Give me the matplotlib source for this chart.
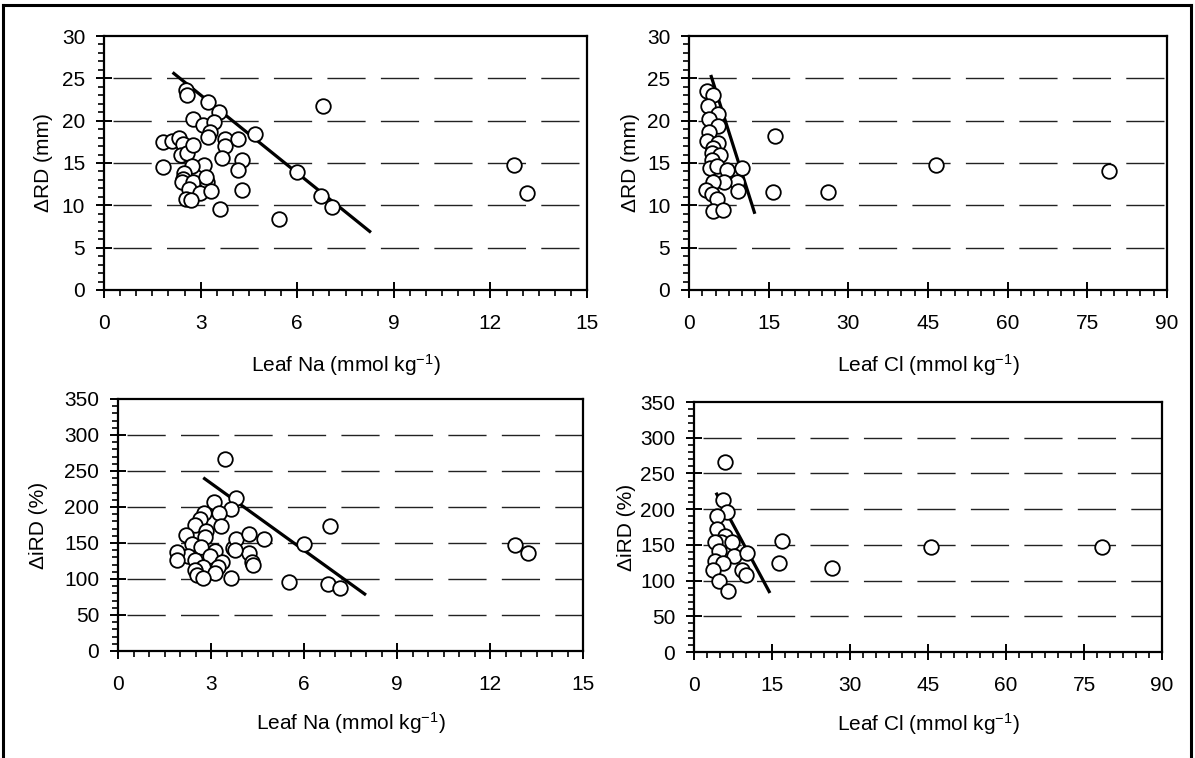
import matplotlib
matplotlib.use("Agg")
import matplotlib.pyplot as plt
from matplotlib.ticker import MultipleLocator
from matplotlib.lines import Line2D

plt.rcParams['font.family'] = ['Liberation Sans', 'DejaVu Sans']
plt.rcParams['mathtext.default'] = 'regular'
plt.rcParams['lines.scale_dashes'] = False

# ---- data: dRD (mm) vs leaf Na ----
na_rd_x = [1.82, 1.82, 2.10, 2.33, 2.44, 2.39, 2.59, 2.77, 2.55, 2.59, 2.75, 3.07, 3.22, 3.57,
           3.43, 3.29, 3.22, 3.76, 3.76, 4.17, 3.66, 4.30, 4.17, 4.69, 3.12, 2.72, 2.49, 2.46,
           2.41, 2.77, 3.19, 3.17, 2.65, 2.98, 3.31, 2.55, 2.69, 3.60, 4.28, 5.44, 5.98, 6.79,
           6.73, 7.09, 12.74, 13.15]
na_rd_y = [14.5, 17.5, 17.6, 17.9, 17.2, 15.9, 16.2, 17.1, 23.6, 23.0, 20.2, 19.5, 22.2, 21.0,
           19.8, 18.7, 18.1, 17.8, 17.0, 17.8, 15.6, 15.3, 14.2, 18.4, 14.8, 14.6, 13.8, 13.1,
           12.8, 12.7, 12.8, 13.4, 11.9, 11.4, 11.7, 10.7, 10.6, 9.6, 11.8, 8.4, 13.9, 21.7,
           11.1, 9.8, 14.8, 11.4]
na_rd_fit_x = [2.13, 8.29]
na_rd_fit_y = [25.7, 6.8]

# ---- data: dRD (mm) vs leaf Cl ----
cl_rd_x = [3.3, 4.6, 3.5, 5.5, 3.8, 5.5, 3.8, 3.3, 5.5, 4.6, 4.3, 5.8, 4.3, 4.0, 5.2, 7.1,
           9.9, 9.0, 9.3, 6.5, 4.6, 3.2, 4.3, 5.2, 4.5, 6.4, 16.2, 15.9, 26.2, 46.5, 79.0]
cl_rd_y = [23.5, 23.0, 21.7, 20.8, 20.2, 19.4, 18.7, 17.6, 17.4, 16.8, 16.2, 16.0, 15.4, 14.4,
           14.6, 14.2, 14.4, 12.8, 11.7, 12.8, 12.8, 11.8, 11.3, 10.7, 9.3, 9.5, 18.2, 11.6,
           11.6, 14.8, 14.0]
cl_rd_fit_x = [4.1, 12.4]
cl_rd_fit_y = [25.4, 9.0]

# ---- data: diRD (%) vs leaf Na ----
na_ird_x = [3.45, 3.81, 3.10, 3.64, 3.27, 2.78, 2.64, 2.48, 3.31, 2.84, 2.81, 2.19, 2.38, 2.67,
            3.13, 2.97, 2.27, 1.89, 1.89, 2.48, 3.35, 3.21, 2.73, 2.48, 3.13, 2.54, 2.73, 3.64,
            3.70, 3.81, 4.24, 4.72, 4.24, 4.32, 4.37, 3.78, 5.52, 6.01, 6.85, 6.79, 7.15,
            12.81, 13.23]
na_ird_y = [267, 213, 207, 197, 191, 192, 184, 175, 174, 166, 159, 161, 148, 145, 139, 132,
            132, 138, 126, 126, 124, 117, 116, 113, 109, 106, 101, 101, 143, 156, 163, 155,
            136, 124, 119, 140, 96, 148, 174, 93, 88, 147, 136]
na_ird_fit_x = [2.75, 8.0]
na_ird_fit_y = [240.7, 77.8]

# ---- data: diRD (%) vs leaf Cl ----
cl_ird_x = [5.96, 5.64, 6.4, 4.37, 4.49, 5.96, 5.13, 4.04, 7.25, 4.87, 7.69, 10.13, 4.04, 5.64,
            3.71, 9.17, 10.0, 4.87, 6.6, 16.9, 16.3, 26.5, 45.5, 78.5]
cl_ird_y = [266, 213, 196, 191, 172, 163, 154, 154, 154, 141, 134, 138, 127, 124, 115, 115,
            108, 100, 86, 155, 124, 118, 147, 147]
cl_ird_fit_x = [4.23, 14.6]
cl_ird_fit_y = [223, 82.6]

na_ticks = [0, 3, 6, 9, 12, 15]
cl_ticks = [0, 15, 30, 45, 60, 75, 90]
rd_ticks = [0, 5, 10, 15, 20, 25, 30]
ird_ticks = [0, 50, 100, 150, 200, 250, 300, 350]

W, H = 1195, 758
fig = plt.figure(figsize=(W / 100, H / 100), dpi=100)


def px_axes(l, r, t, b):
    return fig.add_axes([l / W, 1 - b / H, (r - l) / W, (b - t) / H])


panels = [
    dict(rect=(104, 587, 36, 290), x=na_rd_x, y=na_rd_y, fx=na_rd_fit_x, fy=na_rd_fit_y,
         xt=na_ticks, yt=rd_ticks, xminor=0.5, yminor=1,
         xlabel='Leaf Na (mmol kg$^{-1}$)', ylabel='\u0394RD (mm)', ylc=-0.106, xlc=-0.245),
    dict(rect=(689, 1167, 36, 290), x=cl_rd_x, y=cl_rd_y, fx=cl_rd_fit_x, fy=cl_rd_fit_y,
         xt=cl_ticks, yt=rd_ticks, xminor=2.5, yminor=1,
         xlabel='Leaf Cl (mmol kg$^{-1}$)', ylabel='\u0394RD (mm)', ylc=-0.103, xlc=-0.245),
    dict(rect=(118, 583, 399, 651), x=na_ird_x, y=na_ird_y, fx=na_ird_fit_x, fy=na_ird_fit_y,
         xt=na_ticks, yt=ird_ticks, xminor=0.5, yminor=10,
         xlabel='Leaf Na (mmol kg$^{-1}$)', ylabel='\u0394iRD (%)', ylc=-0.15, xlc=-0.235),
    dict(rect=(694, 1162, 402, 652), x=cl_ird_x, y=cl_ird_y, fx=cl_ird_fit_x, fy=cl_ird_fit_y,
         xt=cl_ticks, yt=ird_ticks, xminor=2.5, yminor=10,
         xlabel='Leaf Cl (mmol kg$^{-1}$)', ylabel='\u0394iRD (%)', ylc=-0.124, xlc=-0.235),
]

for p in panels:
    ax = px_axes(*p['rect'])
    ax.set_xlim(p['xt'][0], p['xt'][-1])
    ax.set_ylim(p['yt'][0], p['yt'][-1])
    ax.set_xticks(p['xt'])
    ax.set_yticks(p['yt'])
    ax.xaxis.set_minor_locator(MultipleLocator(p['xminor']))
    ax.yaxis.set_minor_locator(MultipleLocator(p['yminor']))
    for yv in p['yt'][1:-1]:
        ax.axhline(yv, color='#222222', lw=1.0, ls=(32, (27.5, 11)), zorder=0.5)
    ax.plot(p['fx'], p['fy'], color='black', lw=2.3, zorder=2, solid_capstyle='butt')
    ax.plot(p['x'], p['y'], ls='none', marker='o', ms=10.5, mfc='white', mec='black',
            mew=1.3, zorder=3, clip_on=False)
    for s in ax.spines.values():
        s.set_linewidth(1.6)
    ax.tick_params(which='major', direction='inout', length=11, width=1.4,
                   labelsize=15, pad=8)
    ax.tick_params(which='minor', direction='out', length=4, width=1.2)
    ax.tick_params(axis='x', which='major', pad=12)
    ax.set_xlabel(p['xlabel'], fontsize=15)
    ax.set_ylabel(p['ylabel'], fontsize=15)
    ax.yaxis.set_label_coords(p['ylc'], 0.5)
    ax.xaxis.set_label_coords(0.5, p['xlc'])

# outer figure frame (top, left, right)
fig.add_artist(Line2D([3 / W, 3 / W], [0, 1 - 5 / H], color='black', lw=2.2,
                      transform=fig.transFigure))
fig.add_artist(Line2D([1 - 4 / W, 1 - 4 / W], [0, 1 - 5 / H], color='black', lw=2.2,
                      transform=fig.transFigure))
fig.add_artist(Line2D([3 / W, 1 - 4 / W], [1 - 5 / H, 1 - 5 / H], color='black', lw=2.2,
                      transform=fig.transFigure))

fig.savefig('out.png', dpi=100)
